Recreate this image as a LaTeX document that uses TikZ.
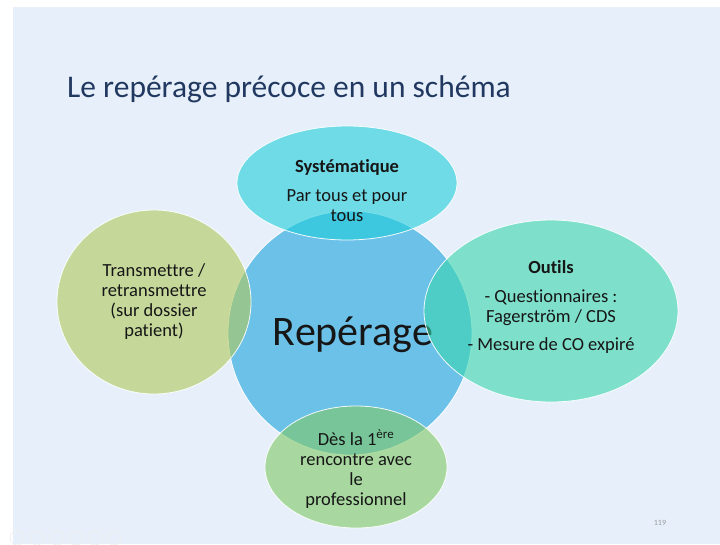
\documentclass[tikz,border=0pt]{standalone}
\usepackage{fontspec}
\setmainfont{Carlito}[Ligatures=CommonOff]
\usetikzlibrary{shapes.geometric}
\definecolor{slidebg}{RGB}{231,240,250}
\definecolor{titleblue}{RGB}{33,56,96}
\definecolor{bigblue}{RGB}{108,193,233}
\definecolor{topcyan}{RGB}{32,205,219}
\definecolor{leftgreen}{RGB}{175,200,90}
\definecolor{rightteal}{RGB}{57,213,173}
\definecolor{botgreen}{RGB}{127,200,100}
\definecolor{txtdark}{RGB}{22,22,22}
\newcommand{\vennlines}[1]{\begin{tabular}[t]{@{}c@{}}#1\end{tabular}}
\begin{document}
\begin{tikzpicture}[x=1pt,y=-1pt,
  satellite/.style={ellipse, inner sep=0pt, fill opacity=0.6, draw=white, draw opacity=0.9, line width=0.8pt},
  blocktext/.style={inner sep=0pt, anchor=base, text=txtdark, font=\fontsize{18.5}{20.3}\selectfont},
  ctrl/.style={circle, draw=white!85!slidebg!90!gray, line width=0.8pt, minimum size=14pt, inner sep=0pt}]
\useasboundingbox (0,0) rectangle (720,544);
\fill[white] (0,0) rectangle (720,544);
\fill[slidebg] (13,7) rectangle (720,544);
% title
\node[anchor=base west, inner sep=0pt, text=titleblue, font=\fontsize{31.5}{36}\selectfont] (title) at (67,97) {Le repérage précoce en un schéma};
% central circle
\node[circle, inner sep=0pt, minimum size=244pt, fill=bigblue, draw=white, line width=0.8pt] (big) at (350,333) {};
\node[inner sep=0pt, anchor=base, text=txtdark, font=\fontsize{42}{48}\selectfont] (bigtext) at (353,345) {Repérage};
% satellites
\node[satellite, fill=topcyan, minimum width=220pt, minimum height=114pt] (top) at (347,183) {};
\node[satellite, fill=leftgreen, minimum width=194pt, minimum height=184pt] (left) at (154,302) {};
\node[satellite, fill=rightteal, minimum width=254pt, minimum height=182pt] (right) at (551,311) {};
\node[satellite, fill=botgreen, minimum width=182pt, minimum height=122pt] (bottom) at (356,467) {};
% satellite texts
\node[blocktext] (toptext) at (347,172) {\vennlines{\textbf{Systématique}\\[9pt] Par tous et pour\\ tous}};
\node[blocktext] (lefttext) at (154,276) {\vennlines{Transmettre /\\ retransmettre\\ (sur dossier\\ patient)}};
\node[blocktext] (righttext) at (551,273) {\vennlines{\textbf{Outils}\\[9pt] - Questionnaires :\\ Fagerström / CDS\\[8pt] - Mesure de CO expiré}};
\node[blocktext] (bottext) at (356,445) {\vennlines{Dès la 1\textsuperscript{ère}\\ rencontre avec\\ le\\ professionnel}};
% page number
\node[inner sep=0pt, anchor=base, text=gray!80, font=\fontsize{8}{9}\selectfont] (pagenum) at (660,525) {119};
% faint slideshow controls
\foreach \i/\cx in {1/17,2/37,3/57,4/76,5/95,6/114}
  \node[ctrl] (ctrl\i) at (\cx,538) {};
\end{tikzpicture}
\end{document}
